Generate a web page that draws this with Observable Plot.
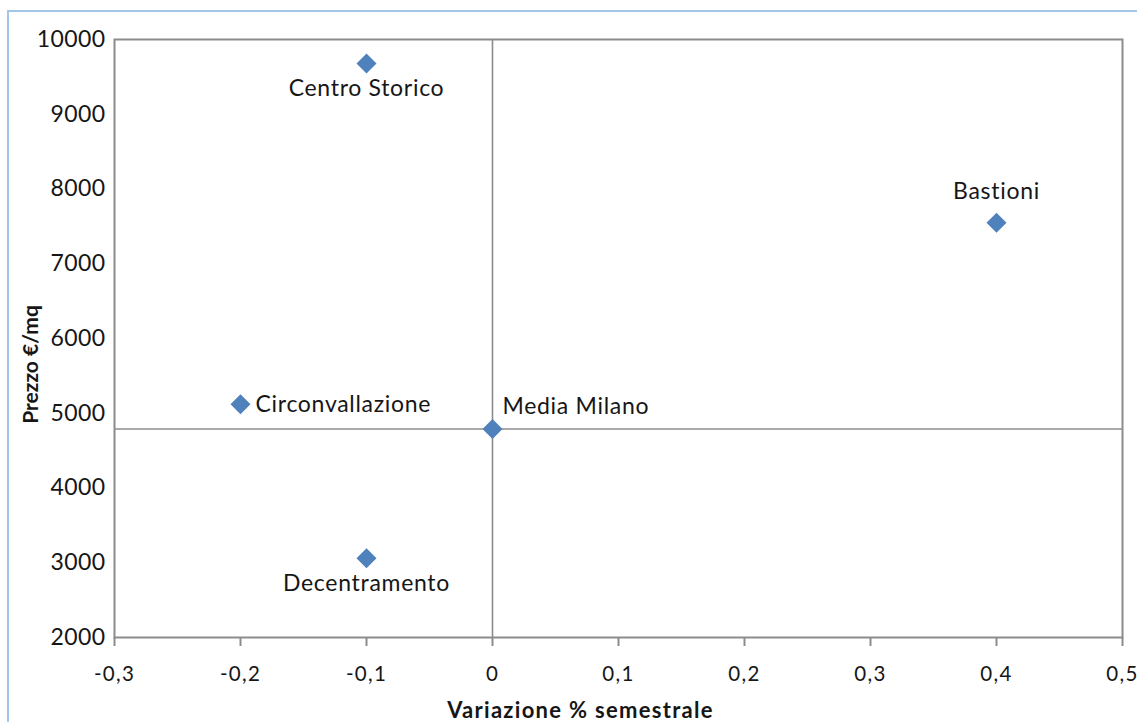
<!DOCTYPE html>
<html>
<head>
<meta charset="utf-8">
<script src="https://cdn.jsdelivr.net/npm/d3@7"></script>
<script src="https://cdn.jsdelivr.net/npm/@observablehq/plot@0.6"></script>
<style>
  html, body { margin: 0; padding: 0; background: #fff; overflow: hidden; }
  #wrap { position: relative; width: 1137px; height: 722px; }
  #border { position: absolute; left: 7px; top: 10px; width: 1300px; height: 900px;
            border-left: 2px solid #a3c6e6; border-top: 2px solid #a3c6e6; box-sizing: border-box; }
  #chart { position: absolute; left: 0; top: 0; }
  svg text { font-variant-ligatures: none; font-feature-settings: "liga" 0, "clig" 0; }
  .xt text { letter-spacing: 1.3px; }
  .yt text { letter-spacing: 0.4px; }
  .pl text { letter-spacing: 0.7px; }
  .xtitle text { letter-spacing: 1.3px; }
</style>
</head>
<body>
<div id="wrap"><div id="border"></div><div id="chart"></div></div>
<script>
// Data
const zones = ["Centro Storico", "Bastioni", "Circonvallazione", "Media Milano", "Decentramento"];
const variation = [-0.1, 0.4, -0.2, 0, -0.1];
const price = [9680, 7550, 5120, 4790, 3060];
const labelPlacement = ["below", "above", "right", "aboveRight", "below"];
const averageVariation = 0;
const averagePrice = 4790;
const xTickValues = [-0.3, -0.2, -0.1, 0, 0.1, 0.2, 0.3, 0.4, 0.5];
const xTickLabels = ["-0,3", "-0,2", "-0,1", "0", "0,1", "0,2", "0,3", "0,4", "0,5"];
const yTickValues = [2000, 3000, 4000, 5000, 6000, 7000, 8000, 9000, 10000];
const yTickLabels = ["2000", "3000", "4000", "5000", "6000", "7000", "8000", "9000", "10000"];
const xTitle = "Variazione % semestrale";
const yTitle = "Prezzo €/mq";

const data = zones.map((z, i) => ({zone: z, x: variation[i], y: price[i], pos: labelPlacement[i]}));
const grey = "#8c8c8c";
const ink = "#161616";
const labelFont = 23;

const chart = Plot.plot({
  width: 1137,
  height: 722,
  marginLeft: 114,
  marginRight: 15,
  marginTop: 39,
  marginBottom: 85,
  style: {fontFamily: "Lato, 'Open Sans', sans-serif", background: "transparent", color: ink},
  x: {domain: [-0.3, 0.5]},
  y: {domain: [2000, 10000]},
  marks: [
    Plot.frame({stroke: grey, strokeWidth: 2}),
    Plot.ruleX([averageVariation], {stroke: grey, strokeWidth: 1.6}),
    Plot.ruleY([averagePrice], {stroke: grey, strokeWidth: 1.6}),
    Plot.axisX(xTickValues, {
      className: "xt",
      tickSize: 9, tickPadding: 20, stroke: grey, strokeWidth: 2, fill: ink,
      fontSize: 20.5, label: null,
      tickFormat: d => xTickLabels[xTickValues.indexOf(d)]
    }),
    Plot.axisY(yTickValues, {
      className: "yt",
      tickSize: 0, tickPadding: 9, fill: ink, fontSize: 23, label: null,
      tickFormat: d => yTickLabels[yTickValues.indexOf(d)]
    }),
    Plot.dot(data, {x: "x", y: "y", symbol: "diamond2", r: 9, fill: "#4f81bd"}),
    Plot.text(data.filter(d => d.pos === "below"), {className: "pl", x: "x", y: "y", text: "zone", dy: 25, fontSize: labelFont, fill: ink}),
    Plot.text(data.filter(d => d.pos === "above"), {className: "pl", x: "x", y: "y", text: "zone", dy: -31, fontSize: labelFont, fill: ink}),
    Plot.text(data.filter(d => d.pos === "right"), {className: "pl", x: "x", y: "y", text: "zone", dx: 15, dy: 0, textAnchor: "start", fontSize: labelFont, fill: ink}),
    Plot.text(data.filter(d => d.pos === "aboveRight"), {className: "pl", x: "x", y: "y", text: "zone", dx: 10, dy: -22, textAnchor: "start", fontSize: labelFont, fill: ink}),
    Plot.text([xTitle], {className: "xtitle", frameAnchor: "bottom", lineAnchor: "middle", textAnchor: "middle", text: d => d, dx: -38, dy: 73, fontSize: 22, fontWeight: "bold", fill: ink}),
    Plot.text([yTitle], {frameAnchor: "left", lineAnchor: "middle", textAnchor: "middle", text: d => d, dx: -83, dy: 26, rotate: -90, fontSize: 21, fontWeight: "bold", fill: ink})
  ]
});
document.getElementById("chart").appendChild(chart);
</script>
</body>
</html>
